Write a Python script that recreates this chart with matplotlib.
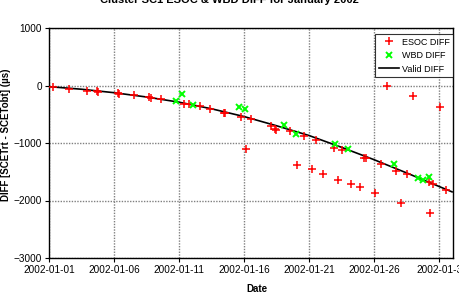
import matplotlib
matplotlib.use("Agg")
import matplotlib.pyplot as plt
import matplotlib.dates as mdates
import numpy as np
import datetime as dt

plt.rcParams['font.family'] = ['Liberation Sans', 'DejaVu Sans']

base = dt.datetime(2002, 1, 1)

# ESOC DIFF (days after 2002-01-01, microseconds)
esoc_days = [0.33, 1.56, 2.95, 3.7, 3.8, 5.3, 5.4, 6.56, 7.7, 7.85, 8.6, 10.4, 10.8, 11.6, 12.4,
             13.45, 13.55, 14.8, 15.5, 15.15, 17.1, 17.35, 17.45, 18.5, 19.6, 20.5, 21.9, 22.5,
             24.2, 24.4, 25.5, 26.7, 27.5, 29.2, 29.5, 30.5,
             19.1, 20.2, 21.05, 22.2, 23.2, 23.9, 25.1, 27.1, 29.3,
             26.0, 28.0, 30.1]
esoc_vals = [-29, -58, -99, -100, -108, -135, -143, -162, -205, -210, -231, -318, -330, -359, -417,
             -470, -480, -550, -579, -1099, -706, -760, -768, -799, -882, -943, -1082, -1128,
             -1258, -1266, -1360, -1487, -1533, -1678, -1719, -1811,
             -1389, -1458, -1545, -1637, -1707, -1765, -1869, -2043, -2217,
             -17, -191, -376]

# WBD DIFF
wbd_days = [9.74, 10.2, 11.05, 14.6, 15.1, 18.1, 19.0, 22.0, 23.0, 26.5, 28.4, 28.8, 29.2]
wbd_vals = [-272, -145, -335, -376, -405, -683, -839, -1024, -1100, -1372, -1603, -1637, -1592]

# Valid DIFF
valid_days = [0, 2.5, 5, 7.5, 10, 12.5, 15, 17.5, 20, 22.5, 25, 27.5, 31]
valid_vals = [-20, -65, -125, -200, -290, -405, -540, -700, -870, -1075, -1290, -1520, -1850]

xticks_days = [0, 5, 10, 15, 20, 25, 30]
xtick_labels = ['2002-01-01', '2002-01-06', '2002-01-11', '2002-01-16', '2002-01-21',
                '2002-01-26', '2002-01-3']
yticks = [-3000, -2000, -1000, 0, 1000]

def to_dates(days):
    return [base + dt.timedelta(days=d) for d in days]

W, H = 459, 300
fig = plt.figure(figsize=(W / 100, H / 100), dpi=100)
ax = fig.add_axes([49/W, 1 - 258/H, (452.7 - 49)/W, (258 - 28)/H])

ax.plot(to_dates(valid_days), valid_vals, color='black', lw=1.2, label='Valid DIFF', zorder=3)
ax.plot(to_dates(esoc_days), esoc_vals, ls='none', marker='+', color='#ff0000', ms=6, mew=1.1,
        label='ESOC DIFF', zorder=4)
ax.plot(to_dates(wbd_days), wbd_vals, ls='none', marker='x', color='#00ff00', ms=5, mew=1.4,
        label='WBD DIFF', zorder=5)

ax.set_xlim(base, base + dt.timedelta(days=31.05))
ax.set_ylim(-3000, 1000)
ax.set_xticks(to_dates(xticks_days))
ax.set_xticklabels(xtick_labels)
ax.set_yticks(yticks)
ax.tick_params(labelsize=7.2, length=3, width=0.8, direction='out', pad=2)
ax.grid(True, color='#808080', ls=(0, (1, 1)), lw=1.0)
ax.set_axisbelow(True)
for s in ax.spines.values():
    s.set_linewidth(1.0)

fig.text(257/W, 1 - 289/H, 'Date', ha='center', va='center', fontsize=7, fontweight='bold')
fig.text(6/W, 1 - 135/H, 'DIFF [SCETrt - SCETobt] (µs)', ha='center', va='center',
         rotation=90, fontsize=7, fontweight='bold')
fig.text(0.5, 1.0, 'Cluster SC1 ESOC & WBD DIFF for January 2002', ha='center', va='center',
         fontsize=8, fontweight='bold')

h, l = ax.get_legend_handles_labels()
order = [1, 2, 0]
leg = ax.legend([h[i] for i in order], [l[i] for i in order], loc='upper right',
                bbox_to_anchor=(453/W, 1 - 34/H), bbox_transform=fig.transFigure,
                fontsize=6.5, frameon=True, fancybox=False, edgecolor='black',
                borderpad=0.4, handlelength=2.2, handletextpad=0.3, labelspacing=0.5,
                borderaxespad=0)
leg.get_frame().set_linewidth(0.8)

fig.savefig('out.png', dpi=100)
